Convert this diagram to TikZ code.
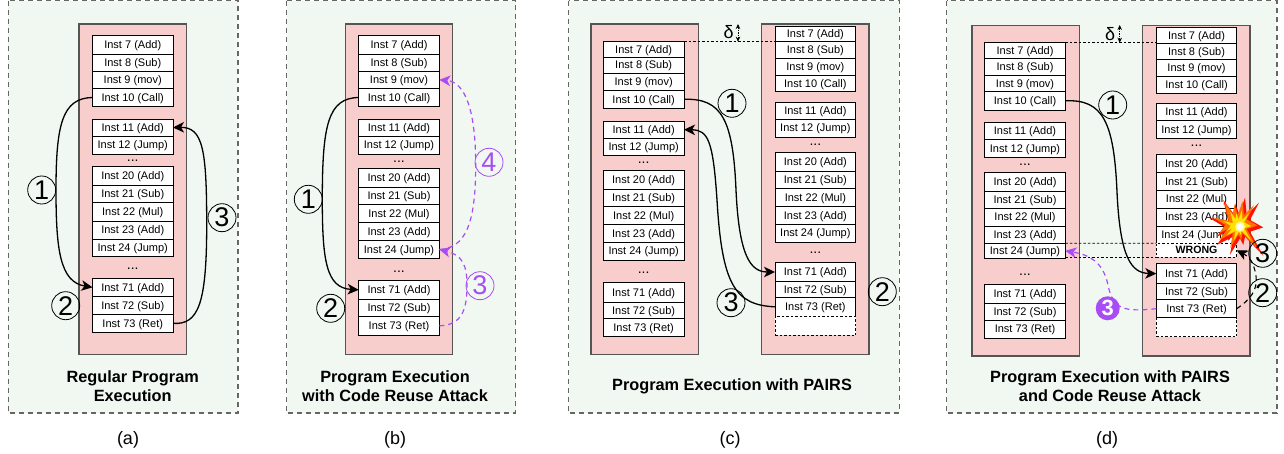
\documentclass[tikz,border=0pt]{standalone}
\usepackage{fontspec}
\setmainfont{Liberation Sans}
\usetikzlibrary{arrows.meta}
\definecolor{panelgreen}{HTML}{F1F8F2}
\definecolor{panelline}{HTML}{666666}
\definecolor{memred}{HTML}{F8CECC}
\definecolor{memline}{HTML}{555555}
\definecolor{attack}{HTML}{A84DF5}
\tikzset{
  x=1pt,y=-1pt,
  panel/.style={fill=panelgreen,draw=panelline,line width=1.1pt,dash pattern=on 5pt off 4pt},
  mem/.style={fill=memred,draw=memline,line width=1.1pt},
  instbox/.style={draw=black,fill=white,line width=0.9pt,inner sep=0pt,outer sep=0pt,
     font=\fontsize{11}{12}\selectfont,text height=9pt,text depth=1.4pt,align=center},
  blankbox/.style={draw=black,fill=white,line width=0.8pt,dash pattern=on 2.5pt off 2pt,inner sep=0pt,outer sep=0pt,
     font=\fontsize{10.6}{12}\selectfont\bfseries},
  dotsnode/.style={anchor=base,inner sep=0pt,font=\fontsize{14}{14}\selectfont},
  titlenode/.style={align=center,inner sep=0pt,font=\fontsize{16.3}{19}\selectfont\bfseries},
  capnode/.style={inner sep=0pt,font=\fontsize{18}{20}\selectfont},
  stepmark/.style={circle,draw=black,line width=0.8pt,minimum size=28pt,inner sep=0pt,font=\fontsize{27}{27}\selectfont},
  stepattack/.style={stepmark,draw=attack,text=attack},
  stepsolid/.style={circle,fill=attack,text=white,minimum size=24pt,inner sep=0pt,font=\fontsize{22}{22}\selectfont\bfseries},
  flow/.style={draw=black,line width=1.3pt,-{Stealth[length=11pt,width=10.5pt,inset=3pt]}},
  attackflow/.style={draw=attack,line width=1.2pt,dash pattern=on 5pt off 4pt,-{Stealth[length=11pt,width=10.5pt,inset=3pt]}},
  wrongflow/.style={draw=black,line width=1.1pt,dash pattern=on 5pt off 4pt,-{Stealth[length=11pt,width=10.5pt,inset=3pt]}},
  guide/.style={draw=black,line width=0.7pt,dash pattern=on 2.5pt off 2pt},
  deltaarrow/.style={draw=black,line width=0.7pt,dash pattern=on 1.5pt off 1pt,{Stealth[length=5pt,width=4.5pt]}-{Stealth[length=5pt,width=4.5pt]}},
  deltanode/.style={inner sep=0pt,font=\fontsize{18}{18}\selectfont},
}
\expandafter\def\csname txt7\endcsname{Inst 7 (Add)}
\expandafter\def\csname txt8\endcsname{Inst 8 (Sub)}
\expandafter\def\csname txt9\endcsname{Inst 9 (mov)}
\expandafter\def\csname txt10\endcsname{Inst 10 (Call)}
\expandafter\def\csname txt11\endcsname{Inst 11 (Add)}
\expandafter\def\csname txt12\endcsname{Inst 12 (Jump)}
\expandafter\def\csname txt20\endcsname{Inst 20 (Add)}
\expandafter\def\csname txt21\endcsname{Inst 21 (Sub)}
\expandafter\def\csname txt22\endcsname{Inst 22 (Mul)}
\expandafter\def\csname txt23\endcsname{Inst 23 (Add)}
\expandafter\def\csname txt24\endcsname{Inst 24 (Jump)}
\expandafter\def\csname txt71\endcsname{Inst 71 (Add)}
\expandafter\def\csname txt72\endcsname{Inst 72 (Sub)}
\expandafter\def\csname txt73\endcsname{Inst 73 (Ret)}
% #1 prefix, #2 left, #3 right, #4 k/top/bottom list (in thirds of a pixel), #5 dots y1, #6 dots y2
\newcommand\instcol[6]{%
  \foreach \k/\ya/\yb in {#4}{%
    \pgfmathsetmacro\cx{(#2+#3)/2}%
    \pgfmathsetmacro\cy{(\ya+\yb)/6}%
    \pgfmathsetmacro\boxw{#3-#2}%
    \pgfmathsetmacro\boxh{(\yb-\ya)/3}%
    \node[instbox,minimum width=\boxw pt,minimum height=\boxh pt] (#1\k) at (\cx,\cy) {\csname txt\k\endcsname};
  }%
  \pgfmathsetmacro\cx{(#2+#3)/2}%
  \pgfmathsetmacro\da{#5/3+1}%
  \pgfmathsetmacro\db{#6/3+1}%
  \node[dotsnode] (#1dotsa) at (\cx,\da) {...};
  \node[dotsnode] (#1dotsb) at (\cx,\db) {...};
}
\newcommand\burst{(-16.7,-26.7) -- (-6.7,-13.3) -- (-5,-23.3) -- (-.7,-12.3) -- (5,-29) -- (6.7,-11.7) -- (19,-24) -- (10,-6.7) -- (23.3,.7) -- (10,5) -- (23.3,29) -- (5,10) -- (3.3,18.3) -- (0,11.7) -- (-10,28) -- (-6.7,10) -- (-23.3,18.3) -- (-13.3,5) -- (-23,10) -- (-16,0) -- (-31,-9) -- (-11.7,-5) -- cycle}
\begin{document}
\begin{tikzpicture}
\useasboundingbox (0,0) rectangle (1284,454);
% panels
\path[panel] (8.3,0.6) rectangle (238,413);
\path[panel] (286.7,0.6) rectangle (515.7,413);
\path[panel] (568.7,0.6) rectangle (899.3,413);
\path[panel] (946.7,0.6) rectangle (1277,413);
% memory columns
\path[mem] (79,24) rectangle (186.3,354.5);
\path[mem] (345.3,24) rectangle (452.7,354.5);
\path[mem] (591,24) rectangle (698.3,354.5);
\path[mem] (761.3,24) rectangle (869,354.5);
\path[mem] (972,25.3) rectangle (1079.3,356);
\path[mem] (1142.7,25.3) rectangle (1250,356);
% instruction boxes
\instcol{a}{92.5}{173}{7/105/163,8/163/214,9/214/265,10/265/320,11/357/408,12/408/462,20/499/556,21/556/607,22/607/663,23/663/718,24/718/768,71/834/890,72/890/942,73/942/998}{482}{805}
\instcol{b}{358.7}{439.3}{7/105/163,8/163/214,9/214/265,10/265/320,11/357/408,12/408/462,20/505/562,21/562/613,22/613/667,23/667/722,24/722/775,71/840/899,72/899/950,73/950/1005}{485}{815}
\instcol{c}{603.3}{684}{7/125/171,8/171/220,9/220/271,10/271/325,11/363/415,12/415/467,20/511/569,21/569/620,22/620/673,23/673/727,24/727/780,71/848/907,72/907/955,73/955/1010}{488}{818}
\instcol{r}{775}{855.7}{7/79/124,8/124/175,9/175/226,10/226/274,11/306/357,12/357/411,20/458/514,21/514/566,22/566/620,23/620/673,24/673/726,71/787/845,72/845/893,73/893/948}{434}{758}
\instcol{d}{984.7}{1065.3}{7/128/176,8/176/225,9/225/275,10/275/330,11/367/418,12/418/472,20/516/573,21/573/625,22/625/678,23/678/730,24/730/775,71/852/911,72/911/960,73/960/1015}{494}{822}
\instcol{s}{1156.3}{1236.7}{7/83/130,8/130/179,9/179/230,10/230/279,11/311/362,12/362/415,20/462/518,21/518/570,22/570/624,23/624/678,24/678/730,71/791/851,72/851/899,73/899/953}{437}{758}
\node[blankbox,minimum width=80.7pt,minimum height=19pt] (rblank) at (815.35,325.8) {};
\node[blankbox,minimum width=80.4pt,minimum height=19pt] (sblank) at (1196.5,327.2) {};
\node[blankbox,minimum width=80.4pt,minimum height=14pt] (swrong) at (1196.5,250.3) {WRONG};
% delta guides
\draw[guide] (c7.north east) -- (c7.north east -| r7.west);
\draw[guide] (d7.north east) -- (d7.north east -| s7.west);
\node[deltanode] (cdelta) at (728.5,32.2) {δ};
\node[deltanode] (ddelta) at (1110.2,34.2) {δ};
\coordinate (cda) at (738,24);
\coordinate (cdb) at (738,41.7);
\coordinate (dda) at (1119.7,25);
\coordinate (ddb) at (1119.7,42.7);
\draw[deltaarrow] (cda) -- (cdb);
\draw[deltaarrow] (dda) -- (ddb);
% wrong guides
\draw[guide] (d24.north east) -- (swrong.north west);
\draw[guide] (d24.south east |- swrong.south) -- (swrong.south west);
% explosion
\begin{scope}[shift={(1240,226.7)}]
  \fill[red!85!orange] \burst;
  \begin{scope}[shift={(-1.6,-1.8)},scale=.82]
    \fill[orange!90!red] \burst;
  \end{scope}
  \begin{scope}[shift={(-1,-1)},scale=.52]
    \fill[yellow!85!orange] \burst;
  \end{scope}
  \fill[yellow!40] (0,0) circle (5);
  \fill[white] (0,0) circle (3);
\end{scope}
% flows
\draw[flow] (a10.west) .. controls (62,98) and (56,125) .. (56,190) .. controls (56,250) and (60,282) .. (a71.west);
\draw[flow] (a73.east) .. controls (198,325) and (206.7,305) .. (206.7,225) .. controls (206.7,150) and (203,127) .. (a11.east);
\draw[flow] (b10.west) .. controls (328,98) and (322.3,125) .. (322.3,199) .. controls (322.3,260) and (326,288) .. (b71.west);
\draw[attackflow] (b73.east) .. controls (462,325) and (467,310) .. (467,285) .. controls (467,265) and (462,255) .. (b24.east);
\draw[attackflow] (b24.east) .. controls (465,248) and (475.7,225) .. (475.7,165) .. controls (475.7,110) and (465,82) .. (b9.east);
\draw[flow] (c10.east) .. controls (722,98) and (733,120) .. (736,190) .. controls (739,255) and (750,272) .. (r71.west);
\draw[flow] (r73.west) .. controls (735,305) and (722,285) .. (717,200) .. controls (713,140) and (708,130) .. (c11.east);
\draw[flow] (d10.east) .. controls (1103,99) and (1114,122) .. (1117,192) .. controls (1120,257) and (1131,273) .. (s71.west);
\draw[attackflow] (s73.west) .. controls (1125,312) and (1113,310) .. (1108,285) .. controls (1103,262) and (1090,255) .. (d24.east);
\draw[wrongflow] (s73.east) .. controls (1250,300) and (1258,290) .. (1256,276) .. controls (1254,262) and (1248,256) .. (swrong.east);
% step marks
\node[stepmark] (a1) at (41.7,190) {1};
\node[stepmark] (a2) at (65.7,305.7) {2};
\node[stepmark] (a3) at (222,217.7) {3};
\node[stepmark] (b1) at (308.3,199.3) {1};
\node[stepmark] (b2) at (330.7,308.3) {2};
\node[stepattack] (b3) at (480,285.7) {3};
\node[stepattack] (b4) at (489,162.3) {4};
\node[stepmark] (c1) at (732,103.3) {1};
\node[stepmark] (c2) at (882.3,291.7) {2};
\node[stepmark] (c3) at (731,302.7) {3};
\node[stepmark] (d1) at (1112.7,105) {1};
\node[stepmark] (d2) at (1262.7,292.7) {2};
\node[stepmark] (d3) at (1262.7,253.3) {3};
\node[stepsolid] (d3a) at (1107.7,308.3) {3};
% titles
\node[titlenode] (ta) at (132.7,386) {Regular Program\\Execution};
\node[titlenode] (tb) at (395,386) {Program Execution\\with Code Reuse Attack};
\node[titlenode] (tc) at (732,386.7) {Program Execution with PAIRS};
\node[titlenode] (td) at (1110,386) {Program Execution with PAIRS\\and Code Reuse Attack};
% captions
\node[capnode] (ca) at (128,440) {(a)};
\node[capnode] (cb) at (395,440) {(b)};
\node[capnode] (cc) at (730,440) {(c)};
\node[capnode] (cd) at (1107,440) {(d)};
\end{tikzpicture}
\end{document}
